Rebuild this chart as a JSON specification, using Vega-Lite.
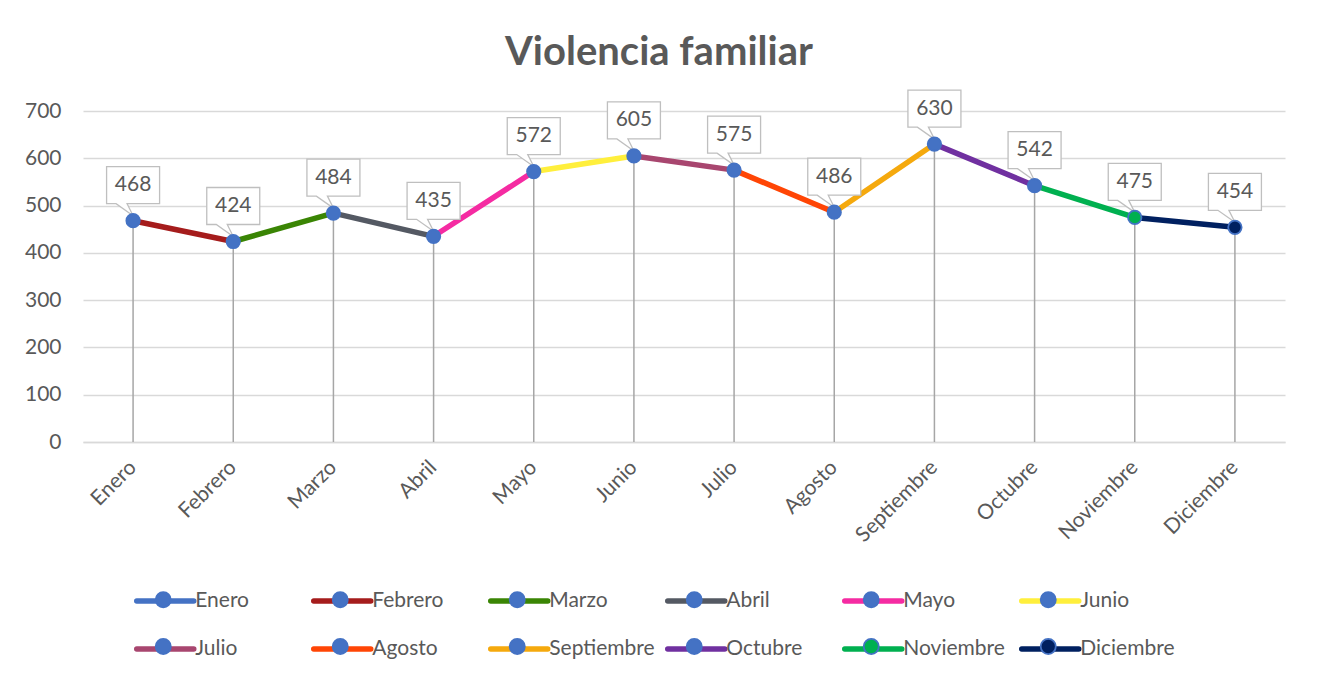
{
  "$schema": "https://vega.github.io/schema/vega-lite/v6.json",
  "width": 1202,
  "height": 331,
  "autosize": {"type": "none"},
  "padding": {"left": 83, "top": 111, "right": 32, "bottom": 233},
  "background": "white",
  "title": {"text": "Violencia familiar", "font": "Lato", "fontSize": 40, "fontWeight": "bold", "color": "#595959", "anchor": "middle", "dx": -25, "offset": -17, "baseline": "alphabetic"},
  "data": {"values": [
    {"mes": "Enero", "valor": 468, "mes_ant": null, "valor_ant": null},
    {"mes": "Febrero", "valor": 424, "mes_ant": "Enero", "valor_ant": 468},
    {"mes": "Marzo", "valor": 484, "mes_ant": "Febrero", "valor_ant": 424},
    {"mes": "Abril", "valor": 435, "mes_ant": "Marzo", "valor_ant": 484},
    {"mes": "Mayo", "valor": 572, "mes_ant": "Abril", "valor_ant": 435},
    {"mes": "Junio", "valor": 605, "mes_ant": "Mayo", "valor_ant": 572},
    {"mes": "Julio", "valor": 575, "mes_ant": "Junio", "valor_ant": 605},
    {"mes": "Agosto", "valor": 486, "mes_ant": "Julio", "valor_ant": 575},
    {"mes": "Septiembre", "valor": 630, "mes_ant": "Agosto", "valor_ant": 486},
    {"mes": "Octubre", "valor": 542, "mes_ant": "Septiembre", "valor_ant": 630},
    {"mes": "Noviembre", "valor": 475, "mes_ant": "Octubre", "valor_ant": 542},
    {"mes": "Diciembre", "valor": 454, "mes_ant": "Noviembre", "valor_ant": 475}
  ]},
  "config": {
    "font": "Lato",
    "view": {"stroke": null},
    "axis": {"labelFont": "Lato", "labelFontSize": 21, "labelColor": "#595959"},
    "legend": {
      "orient": "none", "legendX": 51, "legendY": 473, "direction": "horizontal", "columns": 6,
      "gridAlign": "all", "symbolSize": 812, "symbolOffset": 14.25, "labelFont": "Lato", "labelFontSize": 21,
      "labelColor": "#595959", "labelOffset": 13, "columnPadding": 1, "rowPadding": 20, "padding": 0,
      "symbolLimit": 0, "labelLimit": 300, "symbolStrokeWidth": 5.5
    }
  },
  "layer": [
    {
      "mark": {"type": "rule", "color": "#A6A6A6", "strokeWidth": 1.5},
      "encoding": {
        "x": {"field": "mes", "type": "nominal", "title": null, "sort": null,
          "scale": {"domain": ["Enero","Febrero","Marzo","Abril","Mayo","Junio","Julio","Agosto","Septiembre","Octubre","Noviembre","Diciembre"]},
          "axis": {"labelAngle": -45, "labelAlign": "right", "labelBaseline": "middle", "labelPadding": 22, "ticks": false, "domainColor": "#D9D9D9", "domainWidth": 1.5, "grid": false}},
        "y": {"field": "valor", "type": "quantitative", "title": null,
          "scale": {"domain": [0, 700], "nice": false},
          "axis": {"values": [0,100,200,300,400,500,600,700], "grid": true, "gridColor": "#D9D9D9", "gridWidth": 1.3, "domain": false, "ticks": false, "labelPadding": 22}},
        "y2": {"datum": 0}
      }
    },
    {
      "transform": [{"filter": "datum.mes_ant != null"}],
      "mark": {"type": "rule", "strokeWidth": 5.5, "strokeCap": "round"},
      "encoding": {
        "x": {"field": "mes_ant", "type": "nominal", "title": null, "sort": null},
        "x2": {"field": "mes"},
        "y": {"field": "valor_ant", "type": "quantitative", "title": null},
        "y2": {"field": "valor"},
        "stroke": {"field": "mes", "type": "nominal",
          "scale": {"domain": ["Enero","Febrero","Marzo","Abril","Mayo","Junio","Julio","Agosto","Septiembre","Octubre","Noviembre","Diciembre"],
            "range": ["#4472C4","#A51C1C","#3A8504","#545963","#F52BA2","#FFEF3C","#A8466F","#FF4505","#F5A90D","#7030A0","#00B050","#002060"]},
          "legend": {"title": null, "symbolType": "M-2,0L2,0", "symbolStrokeWidth": 5.5,
            "encode": {"symbols": {"update": {"strokeCap": {"value": "round"}}}}}}
      }
    },
    {
      "mark": {"type": "point", "filled": true, "size": 4, "fill": "white", "stroke": "#BFBFBF", "strokeWidth": 1.3, "opacity": 1,
        "shape": "M-26.5,-54L26.5,-54L26.5,-17L-6,-17L0,-5L-17,-17L-26.5,-17Z"},
      "encoding": {
        "x": {"field": "mes", "type": "nominal", "title": null, "sort": null},
        "y": {"field": "valor", "type": "quantitative", "title": null}
      }
    },
    {
      "mark": {"type": "point", "filled": true, "shape": "circle", "size": 180, "stroke": "#4472C4", "strokeWidth": 1.8, "opacity": 1},
      "encoding": {
        "x": {"field": "mes", "type": "nominal", "title": null, "sort": null},
        "y": {"field": "valor", "type": "quantitative", "title": null},
        "fill": {"field": "mes", "type": "nominal", "sort": null,
          "scale": {"range": ["#4472C4","#4472C4","#4472C4","#4472C4","#4472C4","#4472C4","#4472C4","#4472C4","#4472C4","#4472C4","#00B050","#002060"]},
          "legend": {"title": null, "symbolType": "M0.53,0A0.53,0.53,0,1,1,-0.53,0A0.53,0.53,0,1,1,0.53,0Z",
            "symbolStrokeColor": "#4472C4", "symbolStrokeWidth": 1.8, "labelColor": "transparent",
            "legendX": 50.5, "columnPadding": 13, "rowPadding": 20}}
      }
    },
    {
      "mark": {"type": "text", "dy": -35.5, "baseline": "middle", "align": "center", "font": "Lato", "fontSize": 21, "color": "#595959"},
      "encoding": {
        "x": {"field": "mes", "type": "nominal", "title": null, "sort": null},
        "y": {"field": "valor", "type": "quantitative", "title": null},
        "text": {"field": "valor", "type": "quantitative"}
      }
    }
  ]
}
